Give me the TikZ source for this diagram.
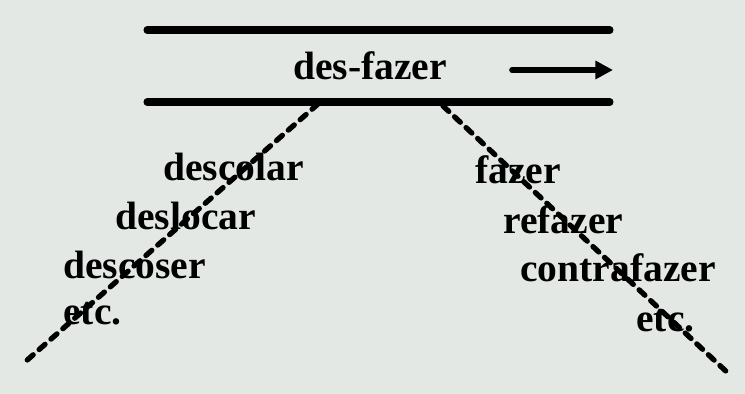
\documentclass[tikz,border=0pt]{standalone}
\usepackage{fontspec}
\setmainfont{Liberation Serif}
\usetikzlibrary{arrows.meta}
\definecolor{bg}{RGB}{228,232,229}
\begin{document}
\begin{tikzpicture}[x=0.02cm,y=-0.02cm,
  rule/.style={line width=4pt,line cap=round},
  branch/.style={line width=3pt,line cap=round,dash pattern=on 4.5pt off 4.5pt},
  word/.style={font=\bfseries\fontsize{22.5}{24}\selectfont,inner sep=0pt,anchor=base west},
]
\fill[bg] (0,0) rectangle (745,394);
\useasboundingbox (0,0) rectangle (745,394);
\coordinate (t1) at (147,30);
\coordinate (t2) at (610,30);
\coordinate (b1) at (147,102);
\coordinate (b2) at (610,102);
\draw[rule] (t1) -- (t2);
\draw[rule] (b1) -- (b2);
\node[word] (title) at (293,80) {des-fazer};
\coordinate (as) at (512,70);
\coordinate (ae) at (613,70);
\draw[line width=3.2pt,line cap=round,-{Triangle[length=10pt,width=10pt]}] (as) -- (ae);
\coordinate (ls) at (318,104);
\coordinate (le) at (25,362);
\coordinate (rs) at (443,106);
\coordinate (re) at (730,375);
\draw[branch] (ls) -- (le);
\draw[branch] (rs) -- (re);
\node[word] (l1) at (163,181) {descolar};
\node[word] (l2) at (115,230) {deslocar};
\node[word] (l3) at (63,279) {descoser};
\node[word] (l4) at (63,325) {etc.};
\node[word] (r1) at (475,184) {fazer};
\node[word] (r2) at (503,234) {refazer};
\node[word] (r3) at (520,282) {contrafazer};
\node[word] (r4) at (636,332) {etc.};
\end{tikzpicture}
\end{document}
